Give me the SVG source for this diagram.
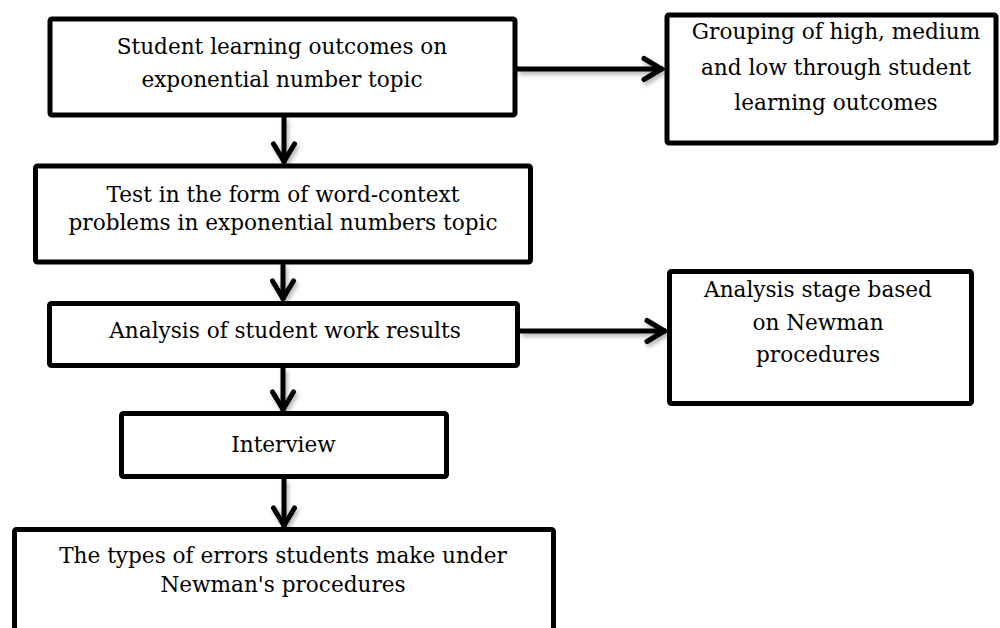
<svg xmlns="http://www.w3.org/2000/svg" width="1000" height="628" viewBox="0 0 1000 628">
  <style>
    .box { fill: #ffffff; stroke: #000000; stroke-width: 5; }
    .lbl { font-family: "DejaVu Serif", "Liberation Serif", serif; font-size: 21.6px; fill: #000000; text-anchor: middle; }
    .conn { fill: none; stroke: #000000; stroke-width: 5; }
  </style>
  <defs>
    <marker id="chev" markerUnits="userSpaceOnUse" markerWidth="40" markerHeight="40" viewBox="-30 -20 40 40" refX="0" refY="0" orient="auto">
      <path d="M-19,-10.5 L-1.5,0 L-19,10.5" fill="none" stroke="#000000" stroke-width="5" stroke-linecap="round" stroke-linejoin="miter"/>
    </marker>
    <filter id="shadow" x="-20%" y="-20%" width="140%" height="140%">
      <feDropShadow dx="2" dy="3" stdDeviation="2" flood-color="#000000" flood-opacity="0.3"/>
    </filter>
  </defs>
  <rect width="1000" height="628" fill="#ffffff"/>

  <g id="connectors" filter="url(#shadow)">
    <line class="conn" x1="284" y1="117" x2="284" y2="163" marker-end="url(#chev)"/>
    <line class="conn" x1="283" y1="264" x2="283" y2="300" marker-end="url(#chev)"/>
    <line class="conn" x1="283" y1="368" x2="283" y2="411" marker-end="url(#chev)"/>
    <line class="conn" x1="284" y1="479" x2="284" y2="527" marker-end="url(#chev)"/>
    <line class="conn" x1="517" y1="69" x2="663" y2="69" marker-end="url(#chev)"/>
    <line class="conn" x1="520" y1="331" x2="666" y2="331" marker-end="url(#chev)"/>
  </g>

  <g id="node-outcomes">
    <rect class="box" x="50" y="19" width="465" height="96" rx="2"/>
    <text class="lbl" x="282" y="54">Student learning outcomes on</text>
    <text class="lbl" x="282" y="87">exponential number topic</text>
  </g>

  <g id="node-grouping">
    <rect class="box" x="667" y="15" width="329" height="128" rx="2"/>
    <text class="lbl" x="836" y="39">Grouping of high, medium</text>
    <text class="lbl" x="836" y="75">and low through student</text>
    <text class="lbl" x="836" y="110">learning outcomes</text>
  </g>

  <g id="node-test">
    <rect class="box" x="35.5" y="166" width="495" height="96" rx="2"/>
    <text class="lbl" x="283" y="202">Test in the form of word-context</text>
    <text class="lbl" x="283" y="230">problems in exponential numbers topic</text>
  </g>

  <g id="node-analysis">
    <rect class="box" x="49.5" y="303.5" width="468" height="62" rx="2"/>
    <text class="lbl" x="285" y="338">Analysis of student work results</text>
  </g>

  <g id="node-newman-stage">
    <rect class="box" x="669.5" y="271.5" width="302" height="132" rx="2"/>
    <text class="lbl" x="818" y="297">Analysis stage based</text>
    <text class="lbl" x="818" y="330">on Newman</text>
    <text class="lbl" x="818" y="362">procedures</text>
  </g>

  <g id="node-interview">
    <rect class="box" x="121.5" y="413.5" width="325" height="63" rx="2"/>
    <text class="lbl" x="283.5" y="452">Interview</text>
  </g>

  <g id="node-errors">
    <rect class="box" x="14.5" y="529.5" width="539" height="130" rx="2"/>
    <text class="lbl" x="283" y="563">The types of errors students make under</text>
    <text class="lbl" x="283" y="592">Newman's procedures</text>
  </g>
</svg>
